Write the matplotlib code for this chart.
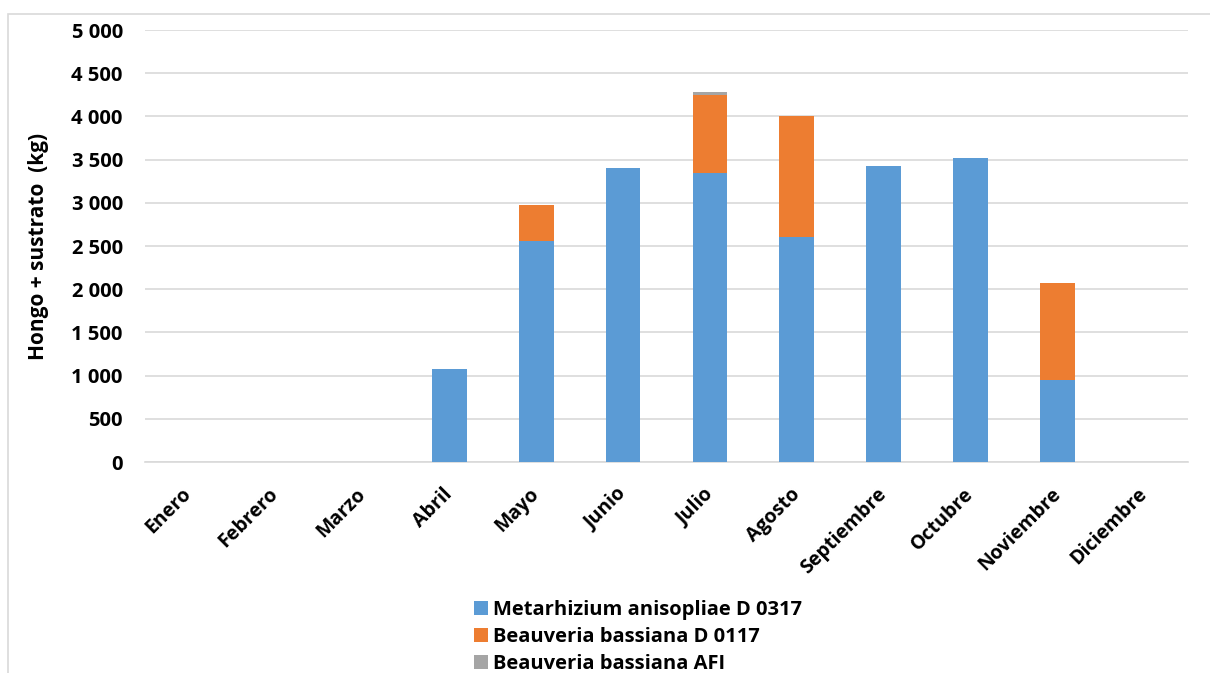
import matplotlib
matplotlib.use("Agg")
import matplotlib.pyplot as plt
from matplotlib.patches import Rectangle
from matplotlib.ticker import FuncFormatter, MultipleLocator
import numpy as np

months = ["Enero", "Febrero", "Marzo", "Abril", "Mayo", "Junio", "Julio",
          "Agosto", "Septiembre", "Octubre", "Noviembre", "Diciembre"]
metarhizium_d0317 = [0, 0, 0, 1075, 2555, 3403, 3340, 2607, 3422, 3520, 952, 0]
beauveria_d0117 = [0, 0, 0, 0, 422, 0, 905, 1400, 0, 0, 1125, 0]
beauveria_afi = [0, 0, 0, 0, 0, 0, 35, 0, 0, 0, 0, 0]
series_names = ["Metarhizium anisopliae D 0317", "Beauveria bassiana D 0117",
                "Beauveria bassiana AFI"]
colors = ["#5b9bd5", "#ed7d31", "#a5a5a5"]

plt.rcParams["font.family"] = ["Open Sans", "DejaVu Sans"]

fig = plt.figure(figsize=(12.1, 6.73), dpi=100)
W, H = 1210, 673
ax = fig.add_axes([145 / W, 1 - 462 / H, (1188 - 145) / W, (462 - 30) / H])

x = np.arange(len(months))
bottom = np.zeros(len(months))
handles = []
for vals, name, col in zip([metarhizium_d0317, beauveria_d0117, beauveria_afi],
                           series_names, colors):
    vals = np.array(vals, dtype=float)
    b = ax.bar(x, vals, width=0.4, bottom=bottom, color=col, label=name,
               zorder=3)
    handles.append(b)
    bottom += vals

ax.set_xlim(-0.5, len(months) - 0.5)
ax.set_ylim(0, 5000)
ax.yaxis.set_major_locator(MultipleLocator(500))
ax.yaxis.set_major_formatter(FuncFormatter(lambda v, p: f"{int(v):,}".replace(",", " ")))
ax.grid(axis="y", color="#d9d9d9", linewidth=1.2, zorder=0)
ax.set_axisbelow(True)
for s in ["top", "right", "left"]:
    ax.spines[s].set_visible(False)
ax.spines["bottom"].set_color("#d9d9d9")
ax.spines["bottom"].set_linewidth(1.2)
ax.tick_params(axis="both", length=0)
ax.tick_params(axis="y", pad=16, labelsize=14.5)

ax.set_xticks(x)
ax.set_xticklabels(months, rotation=45, ha="right", va="center",
                   rotation_mode="anchor", fontsize=14, fontweight="bold")
for lbl in ax.get_yticklabels():
    lbl.set_fontweight("bold")
ax.tick_params(axis="x", pad=21)

ax.set_ylabel("Hongo + sustrato  (kg)", fontsize=15, fontweight="bold",
              labelpad=16)

fig.legend(handles=handles, labels=series_names, loc="upper left",
           bbox_to_anchor=(466 / W, 1 - 592 / H), frameon=False, ncol=1,
           prop={"size": 14.5, "weight": "bold"}, handlelength=0.7,
           handleheight=0.7, handletextpad=0.25, labelspacing=0.35,
           borderaxespad=0)

# chart frame
fig.patches.append(Rectangle((8 / W, -0.1), 1.2, 1 - 14 / H + 0.1,
                             transform=fig.transFigure, fill=False,
                             edgecolor="#d9d9d9", linewidth=1.2))

fig.savefig("out.png", dpi=100, facecolor="white")
